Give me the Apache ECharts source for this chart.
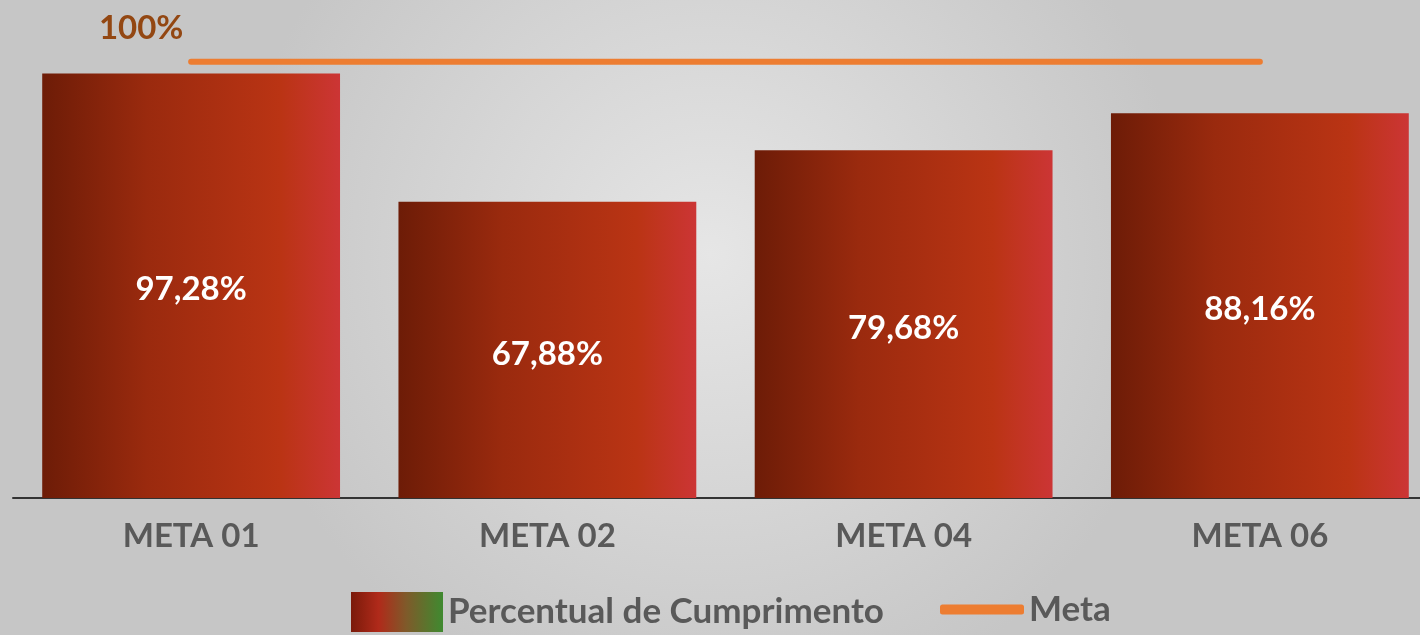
<!DOCTYPE html>
<html>
<head>
<meta charset="utf-8">
<script src="https://cdn.jsdelivr.net/npm/echarts@6/dist/echarts.min.js"></script>
<style>
  html, body { margin: 0; padding: 0; }
  #main { width: 1420px; height: 635px; }
</style>
</head>
<body>
<div id="main"></div>
<script>
// dados do grafico
var categorias = ['META 01', 'META 02', 'META 04', 'META 06']
var percentual = [97.28, 67.88, 79.68, 88.16]
var meta = [100, 100, 100, 100]

var chart = echarts.init(document.getElementById('main'))

var gradBarra = new echarts.graphic.LinearGradient(0, 0, 1, 0, [
  { offset: 0, color: '#6d1c07' },
  { offset: 0.35, color: '#9a2a0e' },
  { offset: 0.8, color: '#ba3414' },
  { offset: 1, color: '#cc3535' }
])
var gradLegenda = new echarts.graphic.LinearGradient(0, 0, 1, 0, [
  { offset: 0, color: '#7a1a0a' },
  { offset: 0.3, color: '#b02a1a' },
  { offset: 0.6, color: '#7f5a2a' },
  { offset: 1, color: '#3f8a30' }
])

function fmt(v) {
  return v.toFixed(2).replace('.', ',') + '%'
}

var option = {
  backgroundColor: new echarts.graphic.RadialGradient(0.5, 0.4, 0.75, [
    { offset: 0, color: '#e6e6e6' },
    { offset: 1, color: '#c6c6c6' }
  ]),
  textStyle: { fontFamily: 'Lato' },
  grid: { left: 13, width: 1425, top: 18, bottom: 137, outerBoundsMode: 'none' },
  legend: [{
    left: 346, top: 587,
    itemWidth: 92, itemHeight: 40,
    itemGap: 10,
    textStyle: { fontSize: 35, fontWeight: 'bold', color: '#595959' },
    data: [{ name: 'Percentual de Cumprimento', icon: 'rect', itemStyle: { color: gradLegenda } }]
  }, {
    left: 935, top: 587,
    itemWidth: 84, itemHeight: 10,
    itemGap: 6,
    textStyle: { fontSize: 35, fontWeight: 'bold', color: '#595959' },
    data: [{ name: 'Meta', icon: 'roundRect', itemStyle: { color: '#ed7d31' } }]
  }],
  xAxis: {
    type: 'category',
    data: categorias,
    axisLine: { lineStyle: { color: '#333333', width: 2 } },
    axisTick: { show: false },
    axisLabel: { margin: 22, fontSize: 33, fontWeight: 'bold', color: '#595959' }
  },
  yAxis: {
    type: 'value', min: 0, max: 110,
    show: false,
    splitLine: { show: false }
  },
  series: [{
    name: 'Percentual de Cumprimento',
    type: 'bar',
    data: percentual,
    barCategoryGap: '16.4%',
    itemStyle: { color: gradBarra },
    label: {
      show: true, position: 'inside', offset: [0, 4],
      fontSize: 33, fontWeight: 'bold', color: '#ffffff',
      formatter: function (p) { return fmt(p.value) }
    },
    z: 2
  }, {
    name: 'Meta',
    type: 'line',
    data: meta.map(function (v, i) {
      if (i === 0) {
        return {
          value: v,
          label: {
            show: true, position: 'inside', offset: [-50, -33],
            fontSize: 33, fontWeight: 'bold', color: '#934712',
            formatter: '100%'
          }
        }
      }
      return v
    }),
    showSymbol: true,
    symbol: 'circle',
    symbolSize: 1,
    itemStyle: { color: 'rgba(0,0,0,0)' },
    lineStyle: { color: '#ed7d31', width: 6, cap: 'round' },
    z: 3
  }]
}

chart.setOption(option)
</script>
</body>
</html>
